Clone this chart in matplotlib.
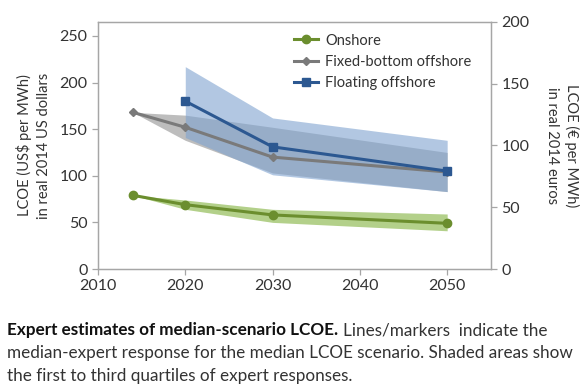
import matplotlib
matplotlib.use("Agg")
import matplotlib.pyplot as plt
import numpy as np

plt.rcParams['font.family'] = ['Lato', 'DejaVu Sans']

years_on = [2014, 2020, 2030, 2050]
onshore = [79, 69, 58, 49]
onshore_lo = [79, 64, 50, 41]
onshore_hi = [79, 74, 64, 59]

years_fixed = [2014, 2020, 2030, 2050]
fixed = [168, 152, 120, 104]
fixed_lo = [168, 138, 103, 83]
fixed_hi = [168, 165, 152, 125]

years_float = [2020, 2030, 2050]
floating = [180, 131, 105]
floating_lo = [141, 101, 83]
floating_hi = [217, 162, 138]

usd_per_eur = 1.325
txt_col = "#333333"
spine_col = "#a6a6a6"

fig = plt.figure(figsize=(5.85, 3.91), dpi=100)
ax = fig.add_axes([0.1675, 0.312, 0.6715, 0.632])

ax.fill_between(years_on, onshore_lo, onshore_hi, color="#b3d08a", lw=0, zorder=1)
ax.fill_between(years_fixed, fixed_lo, fixed_hi, color="#bdbdbd", lw=0, zorder=1)
ax.fill_between(years_float, floating_lo, floating_hi, color="#7fa3d0", alpha=0.6, lw=0, zorder=2)

ax.plot(years_on, onshore, color="#6b8e2e", lw=2.2, marker="o", ms=6, label="Onshore", zorder=4)
ax.plot(years_fixed, fixed, color="#7a7a7a", lw=2.2, marker="D", ms=4, label="Fixed-bottom offshore", zorder=4)
ax.plot(years_float, floating, color="#2c5891", lw=2.2, marker="s", ms=6, label="Floating offshore", zorder=5)

ax.set_xlim(2010, 2055)
ax.set_ylim(0, 265)
ax.set_xticks([2010, 2020, 2030, 2040, 2050])
ax.set_yticks([0, 50, 100, 150, 200, 250])
ax.set_ylabel("LCOE (US$ per MWh)\nin real 2014 US dollars", fontsize=10.5, color=txt_col,
              labelpad=6, linespacing=1.45)

ax2 = ax.twinx()
ax2.set_ylim(0, 265 / usd_per_eur)
ax2.set_yticks([0, 50, 100, 150, 200])
ax2.set_ylabel("LCOE (\u20ac per MWh)\nin real 2014 euros", fontsize=10.5, color=txt_col,
               rotation=270, labelpad=36, linespacing=1.45)

for a in (ax, ax2):
    for s in a.spines.values():
        s.set_color(spine_col)
        s.set_linewidth(0.9)
    a.tick_params(colors=spine_col, labelcolor=txt_col, labelsize=11.5, length=4, width=0.9)

leg = ax.legend(loc="upper left", bbox_to_anchor=(0.47, 1.0), frameon=False, fontsize=10.5,
                handlelength=1.6, handletextpad=0.5, labelspacing=0.5, borderaxespad=0.4)
for t in leg.get_texts():
    t.set_color(txt_col)

cap = 12.3
bold = fig.text(0.012, 0.142, "Expert estimates of median-scenario LCOE.", fontsize=cap,
                fontweight="bold", color="#111111", va="baseline")
fig.canvas.draw()
bb = bold.get_window_extent().transformed(fig.transFigure.inverted())
fig.text(bb.x1 + 0.008, 0.142, "Lines/markers  indicate the", fontsize=cap, color=txt_col, va="baseline")
fig.text(0.012, 0.084, "median-expert response for the median LCOE scenario. Shaded areas show",
         fontsize=cap, color=txt_col, va="baseline")
fig.text(0.012, 0.025, "the first to third quartiles of expert responses.",
         fontsize=cap, color=txt_col, va="baseline")

fig.savefig("out.png", dpi=100)
